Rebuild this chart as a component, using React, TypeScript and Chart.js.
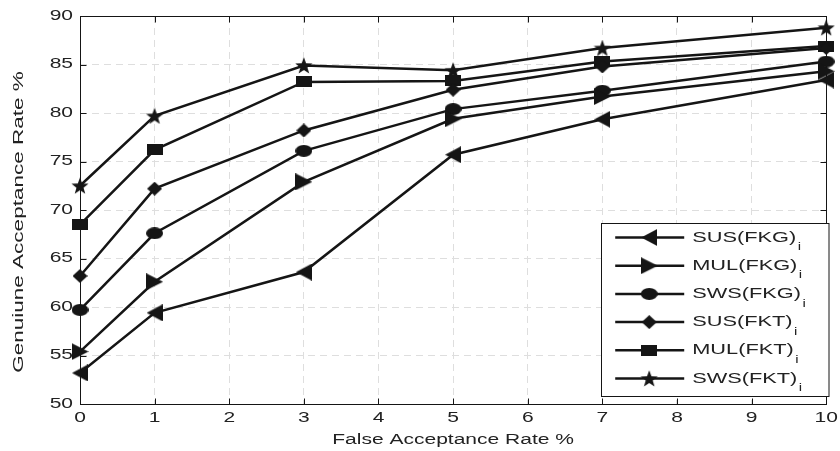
import React, { useEffect, useRef } from 'react';
import { Chart, registerables } from 'chart.js';

Chart.register(...registerables);

// ---- data ----
const farValues = [0, 1, 3, 5, 7, 10];
const seriesLabels = ['SUS(FKG)', 'MUL(FKG)', 'SWS(FKG)', 'SUS(FKT)', 'MUL(FKT)', 'SWS(FKT)'];
const susFKG = [53.2, 59.4, 63.6, 75.7, 79.35, 83.4];
const mulFKG = [55.4, 62.6, 72.9, 79.4, 81.7, 84.3];
const swsFKG = [59.7, 67.6, 76.1, 80.4, 82.3, 85.3];
const susFKT = [63.2, 72.2, 78.2, 82.4, 84.8, 86.7];
const mulFKT = [68.5, 76.2, 83.2, 83.3, 85.3, 86.9];
const swsFKT = [72.5, 79.7, 84.9, 84.4, 86.7, 88.8];
const seriesValues = [susFKG, mulFKG, swsFKG, susFKT, mulFKT, swsFKT];
const markerKinds = ['triLeft', 'triRight', 'circle', 'diamond', 'square', 'star'];
const xTickValues = [0, 1, 2, 3, 4, 5, 6, 7, 8, 9, 10];
const yTickValues = [50, 55, 60, 65, 70, 75, 80, 85, 90];
const xTitle = 'False Acceptance Rate %';
const yTitle = 'Genuiune Acceptance Rate %';
const subscript = 'i';

const FONT = '"Liberation Sans", Arial, Helvetica, sans-serif';
const INK = '#151515';
const TEXT = '#222222';
const SX = 1.5;

function makeMarker(kind: string): HTMLCanvasElement {
  const c = document.createElement('canvas');
  let w = 16, h = 16;
  if (kind === 'triLeft') { w = 16; h = 17; }
  if (kind === 'triRight') { w = 17; h = 17; }
  if (kind === 'circle') { w = 17; h = 12; }
  if (kind === 'diamond') { w = 15; h = 14; }
  if (kind === 'square') { w = 16; h = 11; }
  if (kind === 'star') { w = 18; h = 17; }
  c.width = w; c.height = h;
  const g = c.getContext('2d')!;
  g.fillStyle = INK;
  g.beginPath();
  if (kind === 'triLeft') {
    g.moveTo(0, h / 2); g.lineTo(w, 0); g.lineTo(w, h);
  } else if (kind === 'triRight') {
    g.moveTo(w, h / 2); g.lineTo(0, 0); g.lineTo(0, h);
  } else if (kind === 'circle') {
    g.ellipse(w / 2, h / 2, w / 2, h / 2, 0, 0, Math.PI * 2);
  } else if (kind === 'diamond') {
    g.moveTo(w / 2, 0); g.lineTo(w, h / 2); g.lineTo(w / 2, h); g.lineTo(0, h / 2);
  } else if (kind === 'square') {
    g.rect(0, 0, w, h);
  } else if (kind === 'star') {
    const cx = w / 2, cy = h / 2 + 0.8, R = 9, r = 3.7;
    for (let i = 0; i < 10; i++) {
      const a = -Math.PI / 2 + (i * Math.PI) / 5;
      const rad = i % 2 === 0 ? R : r;
      const px = cx + rad * Math.cos(a);
      const py = cy + rad * Math.sin(a);
      if (i === 0) g.moveTo(px, py); else g.lineTo(px, py);
    }
  }
  g.closePath();
  g.fill();
  return c;
}

function stretchText(ctx: any) {
  if (ctx.__stretched) return;
  const orig = ctx.fillText;
  ctx.fillText = function (text: string, x: number, y: number, mw?: number) {
    this.save();
    this.translate(x, y);
    this.scale(SX, 1);
    if (mw === undefined || mw === null) orig.call(this, text, 0, 0);
    else orig.call(this, text, 0, 0, mw / SX);
    this.restore();
  };
  ctx.__stretched = true;
}

export default function App() {
  const ref = useRef<HTMLCanvasElement | null>(null);

  useEffect(() => {
    document.body.style.margin = '0';
    const canvas = ref.current!;
    const ctx0 = canvas.getContext('2d')!;
    stretchText(ctx0);
    const markers = markerKinds.map(makeMarker);

    const framePlugin = {
      id: 'frame',
      beforeDatasetsDraw(chart: any) {
        const { ctx, chartArea: a, scales } = chart;
        ctx.save();
        ctx.strokeStyle = INK;
        ctx.lineWidth = 1;
        ctx.setLineDash([]);
        const L = Math.round(a.left) + 0.5, R = Math.round(a.right) + 0.5;
        const T = Math.round(a.top) + 0.5, B = Math.round(a.bottom) + 0.5;
        ctx.strokeRect(L, T, R - L, B - T);
        ctx.beginPath();
        const tl = 6;
        xTickValues.forEach((v) => {
          const px = Math.round(scales.x.getPixelForValue(v)) + 0.5;
          ctx.moveTo(px, B); ctx.lineTo(px, B - tl);
          ctx.moveTo(px, T); ctx.lineTo(px, T + tl);
        });
        yTickValues.forEach((v) => {
          const py = Math.round(scales.y.getPixelForValue(v)) + 0.5;
          ctx.moveTo(L, py); ctx.lineTo(L + tl, py);
          ctx.moveTo(R, py); ctx.lineTo(R - tl, py);
        });
        ctx.stroke();
        ctx.restore();
      },
      afterDraw(chart: any) {
        const { ctx, chartArea: a } = chart;
        // y axis title
        ctx.save();
        ctx.fillStyle = TEXT;
        ctx.font = `15px ${FONT}`;
        ctx.textAlign = 'center';
        ctx.textBaseline = 'middle';
        ctx.translate(19, (a.top + a.bottom) / 2 + 12);
        ctx.rotate(-Math.PI / 2);
        ctx.fillText(yTitle, 0, 0);
        ctx.restore();

        // legend
        const bx = a.right - 225, by = 223, bw = 227.5, bh = 173;
        ctx.save();
        ctx.fillStyle = '#ffffff';
        ctx.fillRect(bx, by, bw, bh);
        ctx.strokeStyle = INK;
        ctx.lineWidth = 1;
        ctx.strokeRect(Math.round(bx) + 0.5, by + 0.5, bw, bh);
        seriesLabels.forEach((lab, i) => {
          const y = by + 14.5 + i * 28.2;
          ctx.strokeStyle = INK;
          ctx.lineWidth = 2.5;
          ctx.beginPath();
          ctx.moveTo(bx + 14, y);
          ctx.lineTo(bx + 83, y);
          ctx.stroke();
          const m = markers[i];
          ctx.drawImage(m, bx + 48 - m.width / 2, y - m.height / 2);
          ctx.fillStyle = TEXT;
          ctx.font = `14.5px ${FONT}`;
          ctx.textAlign = 'left';
          ctx.textBaseline = 'middle';
          const tx = bx + 91;
          ctx.fillText(lab, tx, y);
          const w = ctx.measureText(lab).width * SX;
          ctx.font = `10px ${FONT}`;
          ctx.fillText(subscript, tx + w + 1.5, y + 10);
        });
        ctx.restore();
      },
    };

    const chart = new Chart(canvas, {
      type: 'scatter',
      data: {
        datasets: seriesLabels.map((lab, i) => ({
          label: lab,
          data: farValues.map((x, j) => ({ x, y: seriesValues[i][j] })),
          showLine: true,
          clip: false,
          borderColor: INK,
          backgroundColor: INK,
          borderWidth: 2.5,
          pointStyle: markers[i] as any,
          pointRadius: 8,
          pointHoverRadius: 8,
          tension: 0,
          fill: false,
        })),
      },
      options: {
        animation: false,
        responsive: false,
        maintainAspectRatio: false,
        events: [],
        layout: { padding: { top: 16, right: 10, left: 0, bottom: 0 } },
        plugins: { legend: { display: false }, tooltip: { enabled: false } },
        scales: {
          x: {
            type: 'linear',
            min: 0,
            max: 10,
            afterBuildTicks: (s: any) => { s.ticks = xTickValues.map((v) => ({ value: v })); },
            afterFit: (s: any) => { s.height = 47; },
            ticks: { color: TEXT, font: { family: FONT, size: 14 }, padding: 6, autoSkip: false, maxRotation: 0 },
            grid: { color: '#dedede', lineWidth: 1, drawTicks: false },
            border: { display: false, dash: [7, 5] },
            title: { display: true, text: xTitle, color: TEXT, font: { family: FONT, size: 14 }, padding: { top: 0, bottom: 2 } },
          },
          y: {
            type: 'linear',
            min: 50,
            max: 90,
            afterBuildTicks: (s: any) => { s.ticks = yTickValues.map((v) => ({ value: v })); },
            afterFit: (s: any) => { s.width = 80; },
            ticks: { color: TEXT, font: { family: FONT, size: 14 }, padding: 7 },
            grid: { color: '#dedede', lineWidth: 1, drawTicks: false },
            border: { display: false, dash: [7, 5] },
          },
        },
      },
      plugins: [framePlugin],
    } as any);

    return () => chart.destroy();
  }, []);

  return (
    <div style={{ width: 840, height: 451 }}>
      <canvas ref={ref} width={840} height={451} style={{ display: 'block', width: 840, height: 451 }} />
    </div>
  );
}
